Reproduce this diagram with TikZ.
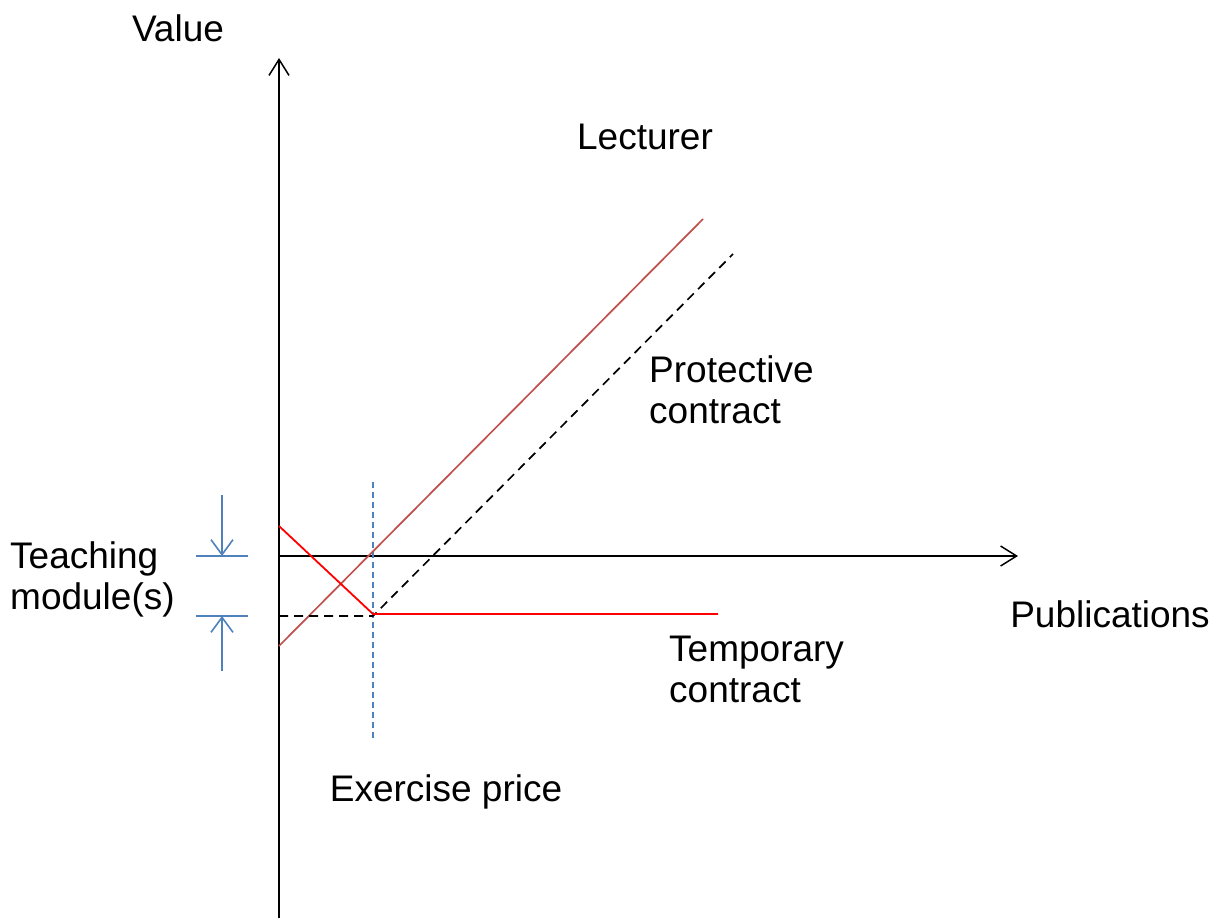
\documentclass[tikz,border=0pt]{standalone}
\usepackage{fontspec}
\setmainfont{Liberation Sans}
\usepackage{tikz}
\usetikzlibrary{positioning, arrows.meta}
\definecolor{lecred}{HTML}{C0504D}
\definecolor{modblue}{HTML}{4F81BD}

\begin{document}
\begin{tikzpicture}[x=1pt,y=-1pt,
  axis/.style={line width=1.8pt,-{Straight Barb[length=16pt,width=20pt,line width=1.5pt]}},
  lbl/.style={font=\fontsize{37}{41}\selectfont,inner sep=0pt,align=left},
  tick/.style={modblue,line width=1.8pt},
  gap/.style={modblue,line width=1.8pt,-{Straight Barb[length=15pt,width=22pt,line width=1.6pt]}}]
\useasboundingbox (0,0) rectangle (1222,919);
% points
\coordinate (ybot) at (279,918);
\coordinate (ytop) at (279,58);
\coordinate (orig) at (279,556);
\coordinate (xend) at (1018,556);
\coordinate (tstart) at (279,526);
\coordinate (kink) at (373,614);
\coordinate (tend) at (718,614);
\coordinate (lstart) at (279,646);
\coordinate (lend) at (703,219);
\coordinate (pstart) at (279,616);
\coordinate (pkink) at (373,616);
\coordinate (pend) at (733,254);
\coordinate (ktop) at (373,482);
\coordinate (kbot) at (373,741);

% axes
\draw[axis] (ybot) -- (ytop);
\draw[axis] (orig) -- (xend);

% exercise price
\draw[modblue,line width=1.5pt,dash pattern=on 6pt off 4pt] (ktop) -- (kbot);

% lecturer
\draw[lecred,line width=1.7pt] (lstart) -- (lend);
% protective contract
\draw[line width=1.7pt,dash pattern=on 9pt off 6pt] (pstart) -- (pkink) -- (pend);
% temporary contract
\draw[red,line width=1.8pt] (tstart) -- (kink) -- (tend);

% teaching module(s)
\coordinate (tl1) at (196,556);
\coordinate (tr1) at (248,556);
\coordinate (tl2) at (196,616);
\coordinate (tr2) at (248,616);
\coordinate (a1) at (222,495);
\coordinate (a2) at (222,671);
\draw[tick] (tl1) -- (tr1);
\draw[tick] (tl2) -- (tr2);
\draw[gap] (a1) -- (222,556);
\draw[gap] (a2) -- (222,616);

% labels
\node[lbl] (value) at (178,28) {Value};
\node[lbl] (lect) at (645,137) {Lecturer};
\node[lbl,anchor=west] (prot) at (649,390) {Protective\\contract};
\node[lbl] (pubs) at (1110,614) {Publications};
\node[lbl,anchor=west] (temp) at (669,669) {Temporary\\contract};
\node[lbl] (exer) at (446,792) {Exercise price};
\node[lbl,anchor=west] (teach) at (10,579) {Teaching\\module(s)};
\end{tikzpicture}
\end{document}
